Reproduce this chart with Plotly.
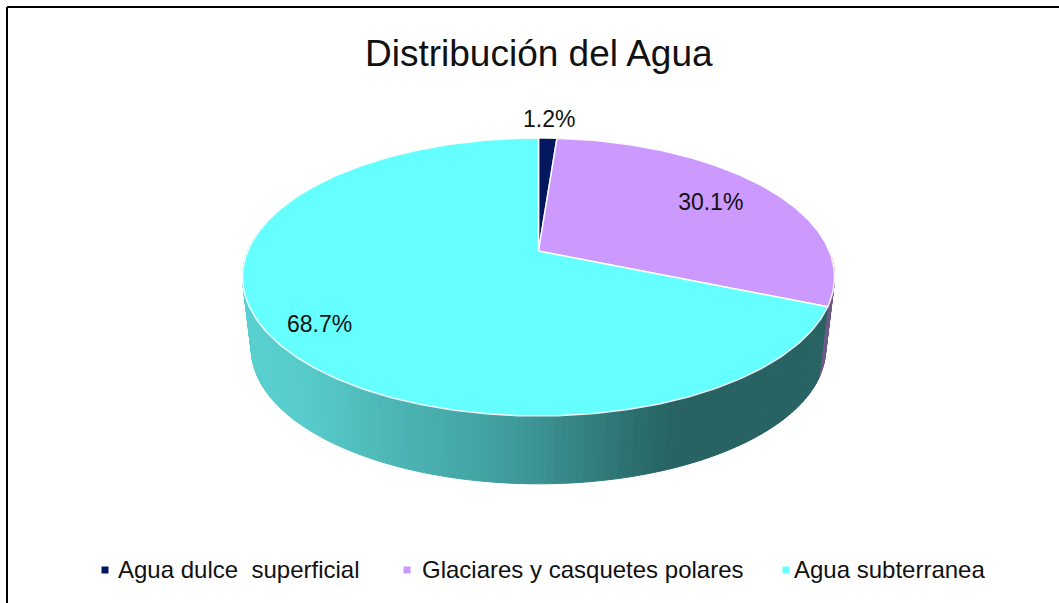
import numpy as np
import plotly.graph_objects as go

# ---- data ----
title = "Distribución del Agua"
categories = ["Agua dulce  superficial", "Glaciares y casquetes polares", "Agua subterranea"]
values = [1.2, 30.1, 68.7]
colors = ["#02175e", "#cc99ff", "#66ffff"]
wall_dark = ["#0a1a40", "#6d5a86", None]

# ---- view of the tilted disc (perspective projection, pixel axes) ----
CX, R, TIP_Y, A, C = 538.5, 290.8, 251.0, -87.2, 0.187
SHRINK, MID_Y, DROP = 0.97, 277.0, 72.0


def top(r, frac):
    """Map radius r and pie fraction (clockwise from 12 o'clock) to the page."""
    t = 2 * np.pi * np.asarray(frac, float)
    u, v = r * np.sin(t), r * np.cos(t)
    d = 1 + C * v
    return CX + R * u / d, (A * v + TIP_Y) / d


def bottom(frac):
    x, y = top(1, frac)
    return CX + (x - CX) * SHRINK, MID_Y + (y - MID_Y) * SHRINK + DROP


# gradient of the cyan wall, by page x
grad_x = [240, 300, 400, 480, 540, 600, 640, 680, 830]
grad_r = [90, 88, 76, 68, 60, 50, 44, 40, 40]
grad_g = [208, 204, 180, 164, 146, 124, 110, 98, 100]
grad_b = [208, 204, 180, 164, 146, 124, 110, 98, 100]


def wall_color(x):
    return "rgb(%d,%d,%d)" % (np.interp(x, grad_x, grad_r), np.interp(x, grad_x, grad_g), np.interp(x, grad_x, grad_b))


fig = go.Figure()
edges = np.cumsum([0] + values) / sum(values)

# side wall: front half only, slice by slice
FRONT_START, FRONT_END = 0.25, 0.78
steps = np.linspace(FRONT_START, FRONT_END, 160)
for a, b in zip(steps[:-1], steps[1:]):
    f = np.linspace(a, b, 4)
    xt, yt = top(1, f)
    xb, yb = bottom(f)
    mid = (a + b) / 2
    idx = int(np.searchsorted(edges, mid)) - 1
    col = wall_dark[idx] or wall_color(xt.mean())
    fig.add_trace(go.Scatter(
        x=np.r_[xt, xb[::-1], xt[0]], y=np.r_[yt, yb[::-1], yt[0]],
        mode="lines", fill="toself", fillcolor=col,
        line=dict(color=col, width=1), hoverinfo="skip", showlegend=False))

# top face wedges
for i, (cat, col) in enumerate(zip(categories, colors)):
    f = np.linspace(edges[i], edges[i + 1], max(8, int(values[i] * 4)))
    x, y = top(1, f)
    tx, ty = top(0, 0)
    fig.add_trace(go.Scatter(
        x=np.r_[float(tx), x, float(tx)], y=np.r_[float(ty), y, float(ty)],
        mode="lines", fill="toself", fillcolor=col,
        line=dict(color="rgba(255,255,255,0.9)", width=1.5),
        name=cat, hoverinfo="name", showlegend=False))

# data labels
label_radius = [1.2, 0.75, 0.82]
label_dx = [0, -1, -2]
label_dy = [2, 2, 9]
mids = (edges[:-1] + edges[1:]) / 2
lx, ly = zip(*[top(r, m) for r, m in zip(label_radius, mids)])
fig.add_trace(go.Scatter(
    x=np.add(lx, label_dx), y=np.add(ly, label_dy), mode="text", text=[f"{v}%" for v in values],
    textfont=dict(family="Liberation Sans", size=23, color="#111111"),
    textposition="middle center", hoverinfo="skip", showlegend=False))

# legend
legend_marker_x = [105, 407, 786]
legend_text_x = [118, 422, 794]
LEGEND_Y = 570
fig.add_trace(go.Scatter(
    x=legend_marker_x, y=[LEGEND_Y] * 3, mode="markers",
    marker=dict(symbol="square", size=7, color=colors, line=dict(width=0)),
    hoverinfo="skip", showlegend=False))
for tx, cat in zip(legend_text_x, categories):
    fig.add_annotation(x=tx, y=LEGEND_Y - 1, text=cat, showarrow=False, xanchor="left", yanchor="middle",
                       xref="x", yref="y", borderpad=0, borderwidth=0,
                       font=dict(family="Liberation Sans", size=24, color="#111111"))

fig.add_annotation(x=539, y=53, text=title, showarrow=False, xanchor="center", yanchor="middle",
                   xref="x", yref="y", font=dict(family="Liberation Sans", size=37, color="#111111"))

# frame: top and left edges only
fig.add_shape(type="line", x0=7, x1=1059, y0=7, y1=7, line=dict(color="#000000", width=2))
fig.add_shape(type="line", x0=7, x1=7, y0=7, y1=603, line=dict(color="#000000", width=2))

fig.update_layout(
    width=1059, height=603, margin=dict(l=0, r=0, t=0, b=0),
    paper_bgcolor="white", plot_bgcolor="white", showlegend=False,
    xaxis=dict(range=[0, 1059], visible=False, fixedrange=True),
    yaxis=dict(range=[603, 0], visible=False, fixedrange=True),
)
fig.write_html("out.html", config={"displayModeBar": False},
               post_script="document.body.style.margin='0';document.body.style.overflow='hidden';")
